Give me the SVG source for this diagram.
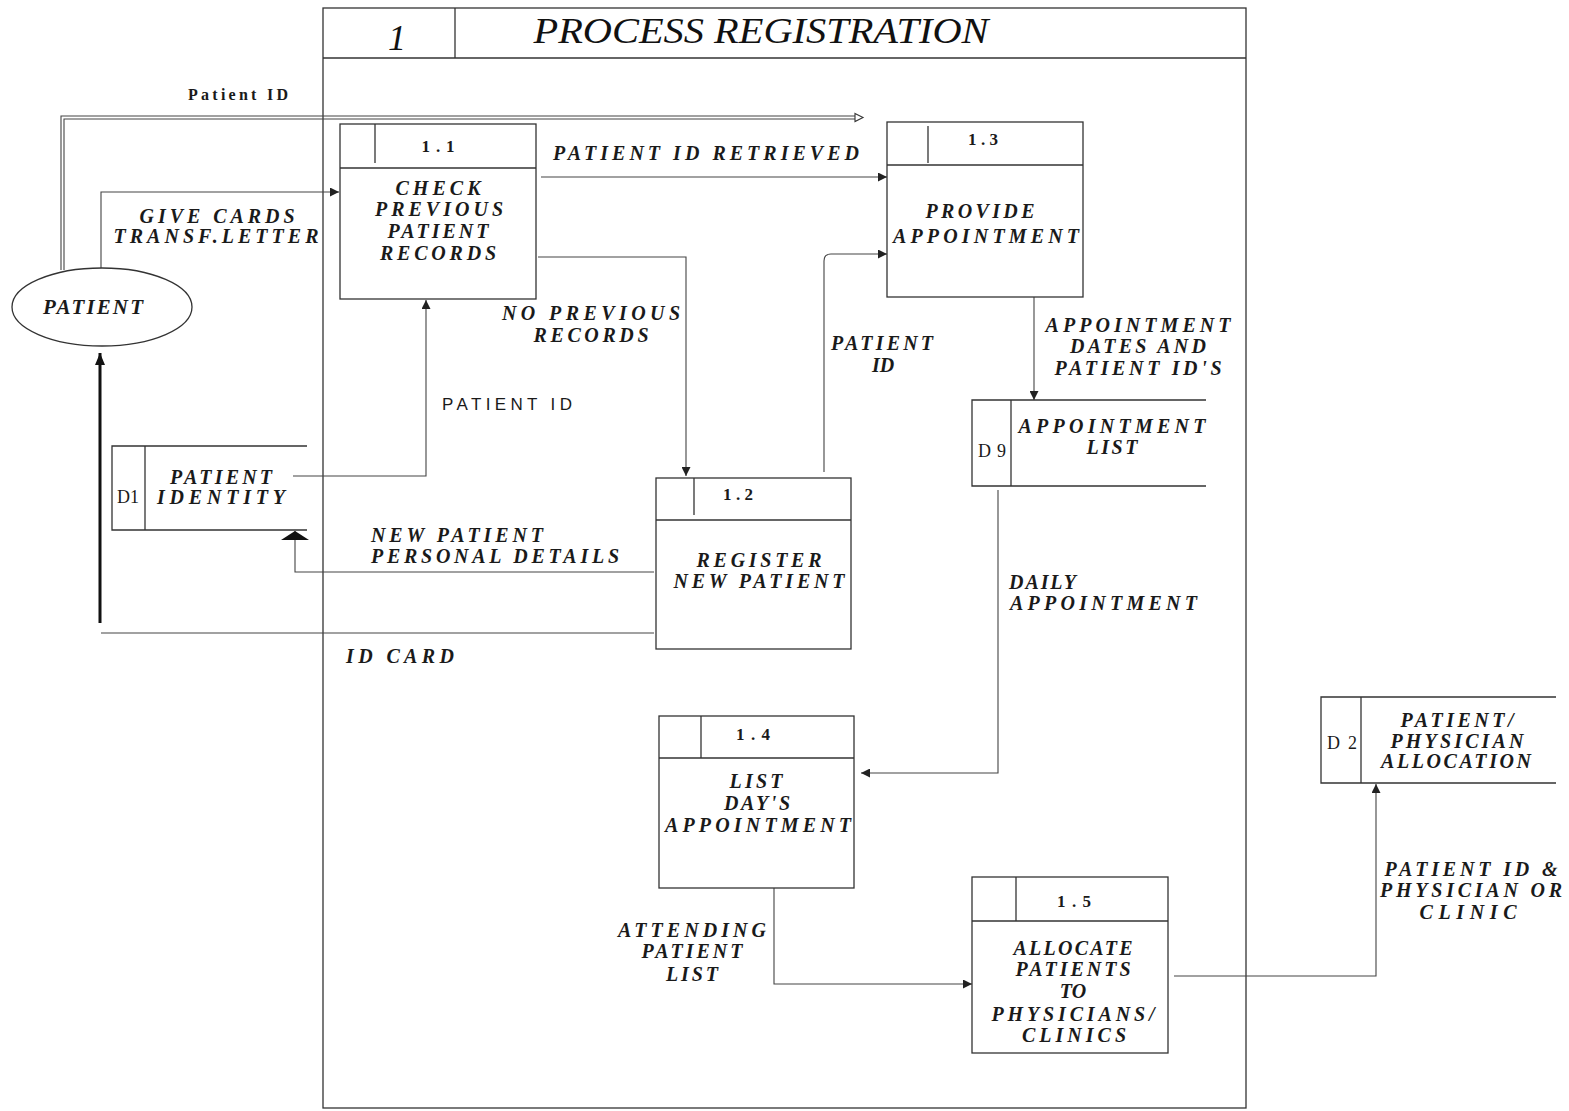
<svg xmlns="http://www.w3.org/2000/svg" width="1569" height="1111" viewBox="0 0 1569 1111">
<style>
.bg{fill:#ffffff}
.box{fill:none;stroke:#333;stroke-width:1.3}
.cn{fill:none;stroke:#444;stroke-width:1.1}
.lbl{font-family:"Liberation Serif","Times New Roman",serif;font-style:italic;font-weight:bold;font-size:20px;fill:#1a1a1a;text-anchor:middle}
.num{font-family:"Liberation Serif","Times New Roman",serif;font-weight:bold;font-size:17px;fill:#1a1a1a;text-anchor:middle}
.ds{font-family:"Liberation Serif","Times New Roman",serif;font-size:18px;fill:#1a1a1a;text-anchor:middle}
.ttl{font-family:"Liberation Serif","Times New Roman",serif;font-style:italic;font-size:36px;fill:#111;text-anchor:middle}
.sans{font-family:"Liberation Sans",Arial,sans-serif;font-size:17px;fill:#1a1a1a;text-anchor:middle}
.small{font-family:"Liberation Serif","Times New Roman",serif;font-weight:bold;font-size:16px;fill:#1a1a1a;text-anchor:middle}
</style>
<defs>
<marker id="arr" viewBox="0 0 10 10" refX="10" refY="5" markerWidth="11" markerHeight="9" markerUnits="userSpaceOnUse" orient="auto"><path d="M0,0 L10,5 L0,10 z" fill="#222"/></marker>
<marker id="wide" viewBox="0 0 9 28" refX="9" refY="14" markerWidth="9" markerHeight="28" markerUnits="userSpaceOnUse" orient="auto"><path d="M0,0 L9,14 L0,28 z" fill="#111"/></marker>
<marker id="thick" viewBox="0 0 12 10" refX="12" refY="5" markerWidth="12" markerHeight="10" markerUnits="userSpaceOnUse" orient="auto"><path d="M0,0 L12,5 L0,10 z" fill="#111"/></marker>
</defs>
<rect class="bg" x="0" y="0" width="1569" height="1111"/>

<g id="frame-1">
<rect class="box" x="323" y="8" width="923" height="1100"/>
<line class="box" x1="323" y1="58" x2="1246" y2="58"/>
<line class="box" x1="455" y1="8" x2="455" y2="58"/>
<text class="ttl" x="397" y="50">1</text>
<text class="ttl" x="761" y="43" textLength="455" lengthAdjust="spacingAndGlyphs">PROCESS REGISTRATION</text>
</g>

<g id="connectors">
<path class="cn" d="M61,270 V116 H855"/>
<path class="cn" d="M64,270 V119 H855"/>
<polygon points="855,113.5 863,117.5 855,121.5" fill="#fff" stroke="#333" stroke-width="1.1"/>
<text class="small" x="238" y="100" textLength="100" lengthAdjust="spacing">Patient ID</text>

<path class="cn" d="M101,268 V192 H339" marker-end="url(#arr)"/>
<text class="lbl" x="217" y="223" textLength="155" lengthAdjust="spacing">GIVE CARDS</text>
<text class="lbl" x="216" y="243" textLength="205" lengthAdjust="spacing">TRANSF.LETTER</text>

<path class="cn" d="M541,177 H887" marker-end="url(#arr)"/>
<text class="lbl" x="706" y="160" textLength="306" lengthAdjust="spacing">PATIENT ID RETRIEVED</text>

<path class="cn" d="M538,257 H686 V476" marker-end="url(#arr)"/>
<text class="lbl" x="591" y="320" textLength="178" lengthAdjust="spacing">NO PREVIOUS</text>
<text class="lbl" x="591" y="342" textLength="115" lengthAdjust="spacing">RECORDS</text>

<path class="cn" d="M824,472 V261 Q824,254 831,254 H887" marker-end="url(#arr)"/>
<text class="lbl" x="882" y="350" textLength="102" lengthAdjust="spacing">PATIENT</text>
<text class="lbl" x="883" y="372">ID</text>

<path class="cn" d="M1034,297 V400" marker-end="url(#arr)"/>
<text class="lbl" x="1138" y="332" textLength="185" lengthAdjust="spacing">APPOINTMENT</text>
<text class="lbl" x="1138" y="353" textLength="136" lengthAdjust="spacing">DATES AND</text>
<text class="lbl" x="1138" y="375" textLength="167" lengthAdjust="spacing">PATIENT ID'S</text>

<path class="cn" d="M293,476 H426 V300" marker-end="url(#arr)"/>
<text class="sans" x="507" y="410" textLength="130" lengthAdjust="spacing">PATIENT ID</text>

<path class="cn" d="M654,572 H295 V531" marker-end="url(#wide)"/>
<text class="lbl" x="457" y="542" textLength="172" lengthAdjust="spacing">NEW PATIENT</text>
<text class="lbl" x="495" y="563" textLength="248" lengthAdjust="spacing">PERSONAL DETAILS</text>

<path class="cn" d="M654,633 H101"/>
<path fill="none" stroke="#111" stroke-width="3" d="M100,623 V353" marker-end="url(#thick)"/>
<text class="lbl" x="400" y="663" textLength="108" lengthAdjust="spacing">ID CARD</text>

<path class="cn" d="M998,490 V773 H861" marker-end="url(#arr)"/>
<text class="lbl" x="1009" y="589" textLength="67" lengthAdjust="spacing" style="text-anchor:start">DAILY</text>
<text class="lbl" x="1010" y="610" textLength="187" lengthAdjust="spacing" style="text-anchor:start">APPOINTMENT</text>

<path class="cn" d="M774,888 V984 H972" marker-end="url(#arr)"/>
<text class="lbl" x="692" y="937" textLength="148" lengthAdjust="spacing">ATTENDING</text>
<text class="lbl" x="692" y="958" textLength="101" lengthAdjust="spacing">PATIENT</text>
<text class="lbl" x="692" y="981" textLength="52" lengthAdjust="spacing">LIST</text>

<path class="cn" d="M1174,976 H1376 V784" marker-end="url(#arr)"/>
<text class="lbl" x="1471" y="876" textLength="173" lengthAdjust="spacing">PATIENT ID &amp;</text>
<text class="lbl" x="1471" y="897" textLength="182" lengthAdjust="spacing">PHYSICIAN OR</text>
<text class="lbl" x="1468" y="919" textLength="97" lengthAdjust="spacing">CLINIC</text>
</g>

<g id="patient">
<ellipse class="box" cx="102" cy="307" rx="90" ry="39"/>
<text class="lbl" x="93" y="314" textLength="100" lengthAdjust="spacing" style="font-size:21px">PATIENT</text>
</g>

<g id="p1-1">
<rect class="box" x="340" y="124" width="196" height="175"/>
<line class="box" x1="340" y1="168" x2="536" y2="168"/>
<line class="box" x1="375" y1="124" x2="375" y2="163"/>
<text class="num" x="438" y="152" textLength="33" lengthAdjust="spacing">1.1</text>
<text class="lbl" x="438" y="195" textLength="85" lengthAdjust="spacing">CHECK</text>
<text class="lbl" x="439" y="216" textLength="128" lengthAdjust="spacing">PREVIOUS</text>
<text class="lbl" x="438" y="238" textLength="101" lengthAdjust="spacing">PATIENT</text>
<text class="lbl" x="438" y="260" textLength="116" lengthAdjust="spacing">RECORDS</text>
</g>

<g id="p1-3">
<rect class="box" x="887" y="122" width="196" height="175"/>
<line class="box" x1="887" y1="165" x2="1083" y2="165"/>
<line class="box" x1="928" y1="126" x2="928" y2="163"/>
<text class="num" x="983" y="145" textLength="30" lengthAdjust="spacing">1.3</text>
<text class="lbl" x="980" y="218" textLength="109" lengthAdjust="spacing">PROVIDE</text>
<text class="lbl" x="986" y="243" textLength="186" lengthAdjust="spacing">APPOINTMENT</text>
</g>

<g id="p1-2">
<rect class="box" x="656" y="478" width="195" height="171"/>
<line class="box" x1="656" y1="520" x2="851" y2="520"/>
<line class="box" x1="694" y1="478" x2="694" y2="515"/>
<text class="num" x="738" y="500" textLength="30" lengthAdjust="spacing">1.2</text>
<text class="lbl" x="759" y="567" textLength="125" lengthAdjust="spacing">REGISTER</text>
<text class="lbl" x="759" y="588" textLength="171" lengthAdjust="spacing">NEW PATIENT</text>
</g>

<g id="d1">
<path class="box" d="M307,446 H112 V530 H307"/>
<line class="box" x1="145" y1="446" x2="145" y2="530"/>
<text class="ds" x="128" y="503">D1</text>
<text class="lbl" x="221" y="484" textLength="102" lengthAdjust="spacing">PATIENT</text>
<text class="lbl" x="221" y="504" textLength="128" lengthAdjust="spacing">IDENTITY</text>
</g>

<g id="d9">
<path class="box" d="M1206,400 H972 V486 H1206"/>
<line class="box" x1="1011" y1="400" x2="1011" y2="486"/>
<text class="ds" x="992" y="457" textLength="28" lengthAdjust="spacing">D9</text>
<text class="lbl" x="1112" y="433" textLength="187" lengthAdjust="spacing">APPOINTMENT</text>
<text class="lbl" x="1112" y="454" textLength="51" lengthAdjust="spacing">LIST</text>
</g>

<g id="p1-4">
<rect class="box" x="659" y="716" width="195" height="172"/>
<line class="box" x1="659" y1="758" x2="854" y2="758"/>
<line class="box" x1="701" y1="716" x2="701" y2="758"/>
<text class="num" x="753" y="740" textLength="34" lengthAdjust="spacing">1.4</text>
<text class="lbl" x="756" y="788" textLength="53" lengthAdjust="spacing">LIST</text>
<text class="lbl" x="757" y="810" textLength="66" lengthAdjust="spacing">DAY'S</text>
<text class="lbl" x="758" y="832" textLength="186" lengthAdjust="spacing">APPOINTMENT</text>
</g>

<g id="p1-5">
<rect class="box" x="972" y="877" width="196" height="176"/>
<line class="box" x1="972" y1="921" x2="1168" y2="921"/>
<line class="box" x1="1016" y1="877" x2="1016" y2="921"/>
<text class="num" x="1074" y="907" textLength="34" lengthAdjust="spacing">1.5</text>
<text class="lbl" x="1073" y="955" textLength="119" lengthAdjust="spacing">ALLOCATE</text>
<text class="lbl" x="1073" y="976" textLength="115" lengthAdjust="spacing">PATIENTS</text>
<text class="lbl" x="1073" y="998">TO</text>
<text class="lbl" x="1073" y="1021" textLength="163" lengthAdjust="spacing">PHYSICIANS/</text>
<text class="lbl" x="1074" y="1042" textLength="104" lengthAdjust="spacing">CLINICS</text>
</g>

<g id="d2">
<path class="box" d="M1556,697 H1321 V783 H1556"/>
<line class="box" x1="1361" y1="697" x2="1361" y2="783"/>
<text class="ds" x="1342" y="749" textLength="30" lengthAdjust="spacing">D2</text>
<text class="lbl" x="1457" y="727" textLength="113" lengthAdjust="spacing">PATIENT/</text>
<text class="lbl" x="1457" y="748" textLength="133" lengthAdjust="spacing">PHYSICIAN</text>
<text class="lbl" x="1456" y="768" textLength="150" lengthAdjust="spacing">ALLOCATION</text>
</g>
</svg>
